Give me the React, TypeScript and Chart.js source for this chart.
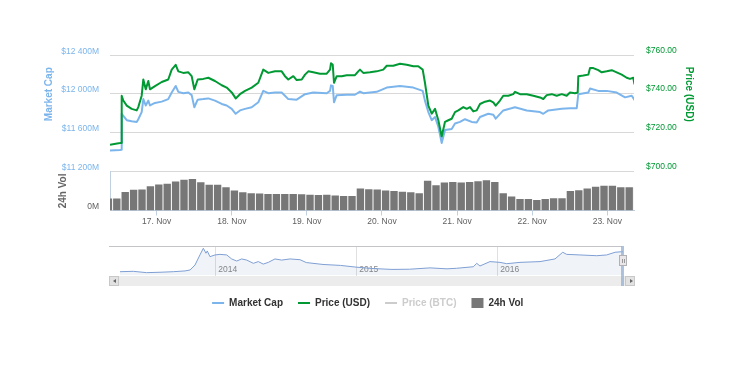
import React, { useEffect, useRef } from 'react';
import { Chart, registerables } from 'chart.js';

Chart.register(...registerables);

const FONT = '"Liberation Sans", Arial, Helvetica, sans-serif';
const BLUE = '#7cb5ec';
const GREEN = '#009933';
const VOL_GREY = '#777777';

// ---------- main chart data (days of November 2016) ----------
const dayTicks = [17, 18, 19, 20, 21, 22, 23];
const capTicks = [11200, 11600, 12000, 12400];
const priceTicks = [700, 720, 740, 760];

const priceDays = [
  16.378, 16.511, 16.525, 16.534, 16.555, 16.601, 16.667, 16.734, 16.755, 16.8, 16.822, 16.854, 16.888, 16.911,
  16.977, 17.067, 17.154, 17.2, 17.253, 17.288, 17.354, 17.421, 17.466, 17.501, 17.546, 17.62, 17.687, 17.776,
  17.866, 17.932, 17.999, 18.052, 18.109, 18.176, 18.265, 18.353, 18.419, 18.486, 18.575, 18.664, 18.708, 18.752,
  18.819, 18.864, 18.931, 18.975, 19.019, 19.085, 19.174, 19.264, 19.308, 19.321, 19.344, 19.361, 19.397, 19.463,
  19.53, 19.64, 19.684, 19.707, 19.751, 19.84, 19.929, 20.017, 20.063, 20.15, 20.24, 20.329, 20.417, 20.483,
  20.542, 20.572, 20.617, 20.662, 20.706, 20.75, 20.795, 20.839, 20.883, 20.928, 20.972, 21.016, 21.083, 21.128,
  21.172, 21.216, 21.261, 21.305, 21.372, 21.438, 21.482, 21.514, 21.571, 21.615, 21.682, 21.748, 21.771, 21.838,
  21.927, 22.015, 22.104, 22.148, 22.193, 22.26, 22.326, 22.393, 22.459, 22.503, 22.57, 22.606, 22.614, 22.68,
  22.747, 22.77, 22.814, 22.88, 22.925, 22.992, 23.059, 23.125, 23.192, 23.258, 23.302, 23.346, 23.362,
];
const priceUSD = [
  713.8, 714.6, 714.7, 739.1, 736.6, 734.0, 732.3, 731.5, 733.2, 739.1, 747.5, 742.4, 746.7, 742.4,
  744.1, 746.2, 747.5, 752.6, 755.1, 751.7, 750.9, 751.2, 749.2, 742.4, 747.5, 747.8, 748.4, 746.7,
  744.5, 743.3, 740.8, 737.7, 739.9, 741.6, 743.3, 745.8, 752.6, 750.9, 751.7, 751.7, 749.2, 747.5,
  749.2, 747.2, 747.5, 750.0, 751.7, 751.2, 750.5, 750.5, 752.6, 755.9, 755.1, 745.8, 749.2, 749.2,
  749.7, 749.7, 751.7, 752.6, 750.9, 751.2, 751.7, 752.6, 754.6, 754.6, 755.6, 755.1, 754.3, 754.3,
  752.6, 745.8, 734.0, 729.8, 732.3, 726.4, 718.0, 725.6, 726.4, 727.2, 730.6, 731.5, 733.2, 732.3,
  733.2, 731.0, 731.5, 734.8, 736.0, 736.6, 735.7, 734.0, 736.6, 739.1, 739.1, 739.9, 741.1, 739.9,
  739.9, 739.1, 738.2, 737.4, 739.4, 739.9, 739.1, 739.9, 739.1, 740.8, 740.4, 740.8, 749.2, 749.5,
  750.0, 753.4, 753.4, 752.3, 751.2, 751.7, 752.3, 751.2, 750.0, 748.4, 747.8, 748.4, 745.0,
];

const capDays = [
  16.378, 16.511, 16.525, 16.534, 16.601, 16.667, 16.734, 16.755, 16.8, 16.822, 16.854, 16.888, 16.911, 16.977,
  17.067, 17.154, 17.2, 17.253, 17.288, 17.354, 17.421, 17.466, 17.501, 17.546, 17.62, 17.687, 17.776, 17.866,
  17.932, 17.999, 18.052, 18.109, 18.176, 18.265, 18.353, 18.419, 18.486, 18.575, 18.664, 18.708, 18.752, 18.864,
  18.975, 19.085, 19.264, 19.308, 19.321, 19.344, 19.361, 19.397, 19.53, 19.64, 19.707, 19.751, 19.929, 20.063,
  20.24, 20.417, 20.542, 20.572, 20.617, 20.662, 20.706, 20.75, 20.795, 20.839, 20.928, 20.972, 21.039, 21.105,
  21.194, 21.261, 21.305, 21.415, 21.482, 21.514, 21.615, 21.771, 21.927, 22.104, 22.148, 22.214, 22.393, 22.503,
  22.593, 22.614, 22.747, 22.77, 22.88, 22.992, 23.125, 23.236, 23.325, 23.369,
];
const marketCapM = [
  11415, 11421, 11423, 11795, 11729, 11718, 11711, 11739, 11813, 11947, 11881, 11931, 11881, 11907,
  11921, 11947, 12015, 12083, 12022, 12008, 12015, 11988, 11863, 11941, 11947, 11954, 11931, 11897,
  11881, 11846, 11795, 11830, 11846, 11863, 11914, 12032, 12008, 12015, 12015, 11982, 11947, 11941,
  11998, 12015, 12008, 12032, 12089, 12083, 11914, 11988, 11992, 11992, 12025, 12008, 12022, 12066,
  12083, 12066, 12032, 11931, 11813, 11729, 11762, 11661, 11492, 11627, 11638, 11694, 11711, 11739,
  11711, 11704, 11762, 11795, 11785, 11745, 11830, 11863, 11830, 11813, 11795, 11830, 11846, 11853,
  11853, 11998, 12015, 12056, 12032, 12032, 12015, 11965, 11982, 11931,
];

const volStartDay = 16.357;
const volStepDay = 0.11185;
const volume24hM = [
  30.5, 30.5, 47, 53, 53.8, 62, 66.3, 68, 73.8, 78.8, 80.5, 72, 65.5, 65.5, 59.5, 51,
  46.8, 44.3, 43.3, 42, 42, 42, 42, 41.3, 40, 39.5, 40.5, 38, 37, 37, 56.3, 54.5,
  53.8, 51.3, 49.5, 48, 46.3, 43.8, 76, 64.5, 71.3, 73, 71.3, 73, 74.5, 77, 73, 43.8,
  35.5, 29.5, 29.5, 27, 29.5, 31.3, 31.3, 49.5, 52, 56.3, 60.5, 63, 63, 59.5, 59.5, 59.5,
];

// ---------- navigator data (years, market cap in $B) ----------
const navYearTicks = [2014, 2015, 2016];
const navYears = [
  2013.324, 2013.418, 2013.513, 2013.608, 2013.702, 2013.785, 2013.821, 2013.856, 2013.891, 2013.915, 2013.934,
  2013.943, 2013.962, 2013.998, 2014.033, 2014.081, 2014.116, 2014.152, 2014.187, 2014.223, 2014.27, 2014.305,
  2014.34, 2014.376, 2014.423, 2014.471, 2014.53, 2014.601, 2014.645, 2014.764, 2014.888, 2014.998, 2015.108,
  2015.253, 2015.376, 2015.523, 2015.643, 2015.712, 2015.83, 2015.854, 2015.877, 2015.948, 2016.019, 2016.067,
  2016.161, 2016.303, 2016.409, 2016.464, 2016.492, 2016.586, 2016.705, 2016.776, 2016.835, 2016.882, 2016.893,
];
const navCapB = [
  2.0, 2.2, 1.5, 1.7, 2.0, 2.4, 2.9, 5.5, 10.8, 14.3, 11.7,
  12.9, 9.9, 10.8, 11.1, 10.8, 8.7, 7.6, 8.7, 8.1, 6.4, 7.3,
  6.0, 6.9, 8.7, 8.1, 8.7, 8.3, 6.8, 5.8, 5.3, 4.4, 3.7,
  3.2, 3.3, 4.0, 3.5, 3.8, 4.6, 6.4, 5.0, 7.3, 6.9, 6.2,
  6.9, 7.3, 8.7, 12.2, 11.1, 10.8, 10.4, 10.8, 12.2, 12.5, 12.4,
];

const legendNames = ['Market Cap', 'Price (USD)', 'Price (BTC)', '24h Vol'];
const legendColors = [BLUE, GREEN, '#cccccc', VOL_GREY];

const fmtCap = (v: number) => '$' + String(v).replace(/\B(?=(\d{3})+(?!\d))/g, ' ') + 'M';

export default function App() {
  const mainRef = useRef<HTMLCanvasElement>(null);
  const navRef = useRef<HTMLCanvasElement>(null);

  useEffect(() => {
    Chart.defaults.font.family = FONT;

    const main = new Chart(mainRef.current as HTMLCanvasElement, {
      type: 'line',
      data: {
        datasets: [
          {
            label: 'Price (USD)',
            data: priceDays.map((d, i) => ({ x: d, y: priceUSD[i] })),
            yAxisID: 'yPrice',
            borderColor: GREEN,
            borderWidth: 2,
            pointRadius: 0,
            tension: 0,
            fill: false,
            borderJoinStyle: 'round',
          },
          {
            label: 'Market Cap',
            data: capDays.map((d, i) => ({ x: d, y: marketCapM[i] })),
            yAxisID: 'y',
            borderColor: BLUE,
            borderWidth: 2,
            pointRadius: 0,
            tension: 0,
            fill: false,
            borderJoinStyle: 'round',
          },
          {
            type: 'bar',
            label: '24h Vol',
            data: volume24hM.map((v, i) => ({ x: volStartDay + i * volStepDay, y: v })),
            yAxisID: 'yVol',
            backgroundColor: VOL_GREY,
            borderWidth: 0,
            barPercentage: 0.88,
            categoryPercentage: 1,
          },
        ],
      } as any,
      options: {
        responsive: false,
        animation: false,
        devicePixelRatio: 1,
        events: [],
        layout: { padding: { left: 0, right: 0, top: 13, bottom: 9.5 } },
        plugins: { legend: { display: false }, tooltip: { enabled: false } },
        scales: {
          x: {
            type: 'linear',
            position: 'bottom',
            offset: false,
            min: 16.3782,
            max: 23.3555,
            afterBuildTicks: (s: any) => {
              s.ticks = dayTicks.map((v) => ({ value: v }));
            },
            afterFit: (s: any) => {
              s.height = 20;
            },
            ticks: {
              autoSkip: false,
              maxRotation: 0,
              padding: 1.1,
              font: { size: 8.5 },
              color: '#606060',
              callback: (v: any) => `${v}. Nov`,
            },
            grid: { display: true, offset: false, drawOnChartArea: false, drawTicks: true, tickLength: 5, color: '#C0D0E0' },
            border: { display: true, color: '#C0D0E0' },
          },
          y: {
            position: 'left',
            stack: 'left',
            stackWeight: 157.5,
            weight: 1,
            min: 11200,
            max: 12795,
            afterBuildTicks: (s: any) => {
              s.ticks = capTicks.map((v) => ({ value: v }));
            },
            afterFit: (s: any) => {
              s.width = 110;
            },
            ticks: {
              autoSkip: false,
              padding: 11,
              labelOffset: -4,
              font: { size: 8.5 },
              color: BLUE,
              callback: (v: any) => fmtCap(Number(v)),
            },
            grid: { color: '#D8D8D8', drawTicks: false },
            border: { display: false },
            title: {
              display: true,
              text: 'Market Cap',
              color: BLUE,
              font: { size: 10, weight: 'bold' },
              padding: { top: 43, bottom: 0 },
            },
          },
          yVol: {
            position: 'left',
            stack: 'left',
            stackWeight: 40,
            weight: 0,
            min: 0,
            max: 100,
            afterBuildTicks: (s: any) => {
              s.ticks = [{ value: 0 }];
            },
            afterFit: (s: any) => {
              s.width = 110;
            },
            ticks: {
              padding: 11,
              labelOffset: -4,
              font: { size: 8.5 },
              color: '#606060',
              callback: (v: any) => `${v}M`,
            },
            grid: { display: false, drawTicks: false },
            border: { display: true, color: '#C0D0E0' },
            title: {
              display: true,
              text: '24h Vol',
              color: '#666666',
              font: { size: 10, weight: 'bold' },
              padding: { top: 57.5, bottom: 0 },
            },
          },
          yPrice: {
            position: 'right',
            stack: 'right',
            stackWeight: 157.5,
            weight: 0,
            min: 700,
            max: 779.75,
            afterBuildTicks: (s: any) => {
              s.ticks = priceTicks.map((v) => ({ value: v }));
            },
            afterFit: (s: any) => {
              s.width = 112;
            },
            ticks: {
              autoSkip: false,
              padding: 12,
              labelOffset: -5,
              font: { size: 8.5 },
              color: GREEN,
              callback: (v: any) => '$' + Number(v).toFixed(2),
            },
            grid: { display: false, drawTicks: false },
            border: { display: false },
            title: {
              display: true,
              text: 'Price (USD)',
              color: GREEN,
              font: { size: 10, weight: 'bold' },
              padding: { top: 51.5, bottom: 0 },
            },
          },
          yPad: {
            position: 'right',
            stack: 'right',
            stackWeight: 40,
            weight: 1,
            min: 0,
            max: 1,
            afterFit: (s: any) => {
              s.width = 112;
            },
            ticks: { display: false },
            grid: { display: false, drawTicks: false },
            border: { display: false },
          },
        },
      } as any,
    });

    const nav = new Chart(navRef.current as HTMLCanvasElement, {
      type: 'line',
      data: {
        datasets: [
          {
            label: 'Navigator',
            data: navYears.map((x, i) => ({ x, y: navCapB[i] })),
            borderColor: '#7f9fd4',
            borderWidth: 1,
            backgroundColor: 'rgba(69,114,167,0.08)',
            fill: 'origin',
            pointRadius: 0,
            tension: 0,
          },
        ],
      } as any,
      options: {
        responsive: false,
        animation: false,
        devicePixelRatio: 1,
        events: [],
        layout: { padding: { left: 112.1, right: 122.7, top: 6, bottom: 0 } },
        plugins: {
          tooltip: { enabled: false },
          legend: {
            display: true,
            position: 'bottom',
            align: 'center',
            onClick: () => {},
            labels: {
              usePointStyle: true,
              pointStyleWidth: 12,
              padding: 15,
              font: { size: 10, weight: 'bold' },
              color: '#333333',
              generateLabels: () =>
                legendNames.map((name, i) => ({
                  text: name,
                  fillStyle: legendColors[i],
                  strokeStyle: legendColors[i],
                  lineWidth: i === 3 ? 0 : 2,
                  pointStyle: i === 3 ? 'rect' : 'line',
                  fontColor: i === 2 ? '#cccccc' : '#333333',
                  hidden: false,
                  datasetIndex: 0,
                })),
            },
          },
        },
        scales: {
          x: {
            type: 'linear',
            offset: false,
            min: 2013.3241,
            max: 2016.8936,
            afterBuildTicks: (s: any) => {
              s.ticks = navYearTicks.map((v) => ({ value: v }));
            },
            afterFit: (s: any) => {
              s.height = 7.5;
            },
            ticks: {
              autoSkip: false,
              maxRotation: 0,
              mirror: true,
              align: 'start',
              labelOffset: 3,
              padding: 1.1,
              font: { size: 8.5 },
              color: '#888888',
              callback: (v: any) => String(v),
            },
            grid: { color: '#e0e0e0', drawTicks: false },
            border: { display: false },
          },
          y: {
            min: 0,
            max: 15.5,
            afterFit: (s: any) => {
              s.width = 7.9;
            },
            ticks: { display: false },
            grid: { display: false, drawTicks: false },
            border: { display: false },
          },
        },
      } as any,
    });

    return () => {
      main.destroy();
      nav.destroy();
    };
  }, []);

  const abs = (l: number, t: number, w: number, h: number, extra: any = {}) => ({
    position: 'absolute' as const,
    left: l,
    top: t,
    width: w,
    height: h,
    boxSizing: 'border-box' as const,
    ...extra,
  });

  return (
    <div style={{ position: 'absolute', left: 0, top: 0, width: 746, height: 387, background: '#ffffff', overflow: 'hidden' }}>
      <canvas ref={mainRef} width={746} height={240} style={{ position: 'absolute', left: 0, top: 0, width: 746, height: 240 }} />
      <canvas ref={navRef} width={746} height={78} style={{ position: 'absolute', left: 0, top: 240, width: 746, height: 78 }} />
      {/* navigator outline */}
      <div style={abs(109, 246, 513, 1, { background: '#c4c4c8' })} />
      {/* scrollbar track */}
      <div style={abs(109, 276, 526, 10, { background: '#ececec' })} />
      {/* left button */}
      <div style={abs(109, 276, 10, 10, { background: '#e2e2e2', border: '1px solid #c8c8c8' })}>
        <div style={abs(2.5, 2, 0, 0, { borderTop: '2.5px solid transparent', borderBottom: '2.5px solid transparent', borderRight: '3px solid #666666' })} />
      </div>
      {/* right button */}
      <div style={abs(625, 276, 10, 10, { background: '#e2e2e2', border: '1px solid #c8c8c8' })}>
        <div style={abs(3.5, 2, 0, 0, { borderTop: '2.5px solid transparent', borderBottom: '2.5px solid transparent', borderLeft: '3px solid #666666' })} />
      </div>
      {/* selected range / scrollbar thumb */}
      <div style={abs(621, 246, 3, 40, { background: 'rgba(150,175,210,0.75)' })} />
      {/* handle */}
      <div style={abs(619, 255, 8, 11, { background: '#ebe7e8', border: '1px solid #b2b1b6' })}>
        <div style={abs(1.5, 2.5, 3, 4, { borderLeft: '1px solid #999999', borderRight: '1px solid #999999' })} />
      </div>
    </div>
  );
}
